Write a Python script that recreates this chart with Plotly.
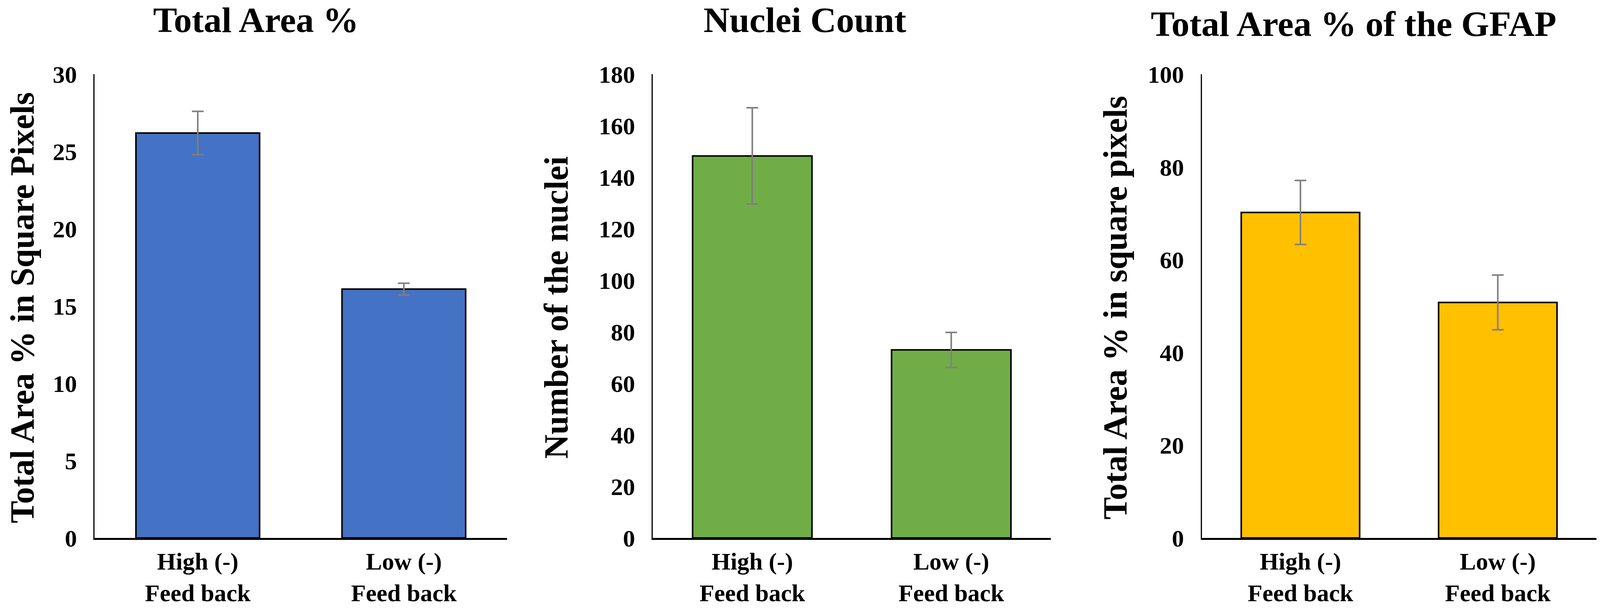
import plotly.graph_objects as go
from plotly.subplots import make_subplots

# categories shared by all three panels
groups = ["High (-)<br>Feed back", "Low (-)<br>Feed back"]

# panel 1 - total area %
area_mean = [26.2, 16.1]
area_err = [1.4, 0.38]

# panel 2 - nuclei count
nuclei_mean = [148.3, 73.0]
nuclei_err = [18.7, 6.8]

# panel 3 - GFAP total area %
gfap_mean = [70.2, 50.8]
gfap_err = [6.9, 5.9]

titles = ["Total Area %", "Nuclei Count", "Total Area % of the GFAP"]
ytitles = ["Total Area % in Square Pixels", "Number of the nuclei", "Total Area % in square pixels"]
colors = ["#4472C4", "#70AD47", "#FFC000"]

FONT = "Liberation Serif"

fig = make_subplots(rows=1, cols=3)

panels = [(area_mean, area_err), (nuclei_mean, nuclei_err), (gfap_mean, gfap_err)]
for i, (m, e) in enumerate(panels):
    fig.add_trace(
        go.Bar(x=groups, y=m, marker_color=colors[i],
               marker_line=dict(color="black", width=4),
               error_y=dict(type="data", array=e, color="#7F7F7F", thickness=4, width=15),
               showlegend=False),
        row=1, col=i + 1,
    )

domains = [[0.0592, 0.3168], [0.408, 0.6567], [0.7511, 0.9978]]
yranges = [[0, 30], [0, 180], [0, 100]]
dticks = [5, 20, 20]

for i in range(3):
    fig.update_xaxes(domain=domains[i], showline=True, linecolor="black", linewidth=5,
                     showgrid=False, ticks="", automargin=False, ticklabelstandoff=2,
                     tickfont=dict(family=FONT, size=62, color="black", weight="bold"),
                     row=1, col=i + 1)
    fig.update_yaxes(domain=[0.1167, 0.878], range=yranges[i], dtick=dticks[i],
                     showline=True, linecolor="black", linewidth=3,
                     showgrid=False, zeroline=False, ticks="", automargin=False,
                     ticklabelstandoff=30,
                     tickfont=dict(family=FONT, size=62, color="black", weight="bold"),
                     row=1, col=i + 1)

# panel titles
title_x = [0.160, 0.503, 0.846]
title_y = [0.967, 0.967, 0.961]
for i in range(3):
    fig.add_annotation(text="<b>" + titles[i] + "</b>", x=title_x[i], y=title_y[i],
                       xref="paper", yref="paper", showarrow=False,
                       xanchor="center", yanchor="middle",
                       font=dict(family=FONT, size=92, color="black"))

# y axis titles
ytitle_x = [0.0138, 0.3475, 0.697]
for i in range(3):
    fig.add_annotation(text="<b>" + ytitles[i] + "</b>", x=ytitle_x[i], y=0.495,
                       xref="paper", yref="paper", showarrow=False, textangle=-90,
                       xanchor="center", yanchor="middle",
                       font=dict(family=FONT, size=86, color="black"))

fig.update_layout(
    width=4096, height=1560,
    margin=dict(l=0, r=0, t=0, b=0),
    bargap=0.4,
    plot_bgcolor="white",
    paper_bgcolor="white",
)

# drop the default page margin so the figure fills the window
fig.write_html("out.html", config={"displayModeBar": False},
               post_script="document.body.style.margin = '0';")
